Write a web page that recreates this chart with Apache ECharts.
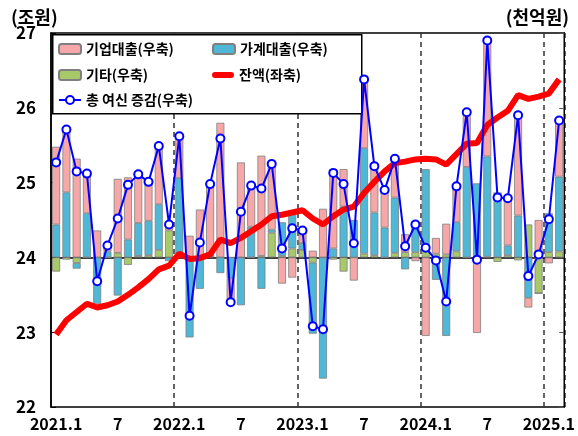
<!DOCTYPE html>
<html><head><meta charset="utf-8">
<script src="https://cdn.jsdelivr.net/npm/echarts@6/dist/echarts.min.js"></script>
<style>html,body{margin:0;padding:0;background:#fff}#c{width:578px;height:436px}</style>
</head><body><div id="c"></div>
<script>
// Months (2021.1 – 2025.2)
const categories = [
 '2021.1','2021.2','2021.3','2021.4','2021.5','2021.6','2021.7','2021.8','2021.9','2021.10','2021.11','2021.12',
 '2022.1','2022.2','2022.3','2022.4','2022.5','2022.6','2022.7','2022.8','2022.9','2022.10','2022.11','2022.12',
 '2023.1','2023.2','2023.3','2023.4','2023.5','2023.6','2023.7','2023.8','2023.9','2023.10','2023.11','2023.12',
 '2024.1','2024.2','2024.3','2024.4','2024.5','2024.6','2024.7','2024.8','2024.9','2024.10','2024.11','2024.12',
 '2025.1','2025.2'
];
// right axis (천억원)
const corporate = [10.4,8.3,13.2,5.6,3.6,0.6,9.9,8.3,6.4,5.0,8.1,0.8,
 5.6,2.9,6.4,9.7,18.0,-2.9,12.7,5.4,13.4,8.6,-3.5,-2.7,
 1.6,0.9,6.5,10.6,5.0,-3.1,9.2,6.3,5.0,5.2,2.4,-0.5,
 -10.5,2.1,4.1,4.8,7.2,-10.1,15.5,0,6.3,13.9,-1.3,5.0,
 -0.8,7.5];
const household = [4.4,8.7,-0.75,5.9,-6.2,0.8,-5.1,2.4,4.4,4.6,6.1,-0.5,
 10.6,-10.7,-4.2,0,-2.1,-2.8,-6.4,4.1,-4.2,0.4,4.5,5.1,
 0.9,-9.5,-16.2,1.2,6.8,5.0,14.1,5.7,4.0,7.4,-1.6,4.2,
 10.8,-3.0,-10.5,3.9,12.1,9.9,13.4,8.6,1.3,5.6,-5.4,0,
 5.2,10.0];
const other = [-1.9,-0.3,-0.75,0,0,0,0.6,-1.0,0.2,0.3,1.0,3.6,
 0,0,0,0.2,0,0,0,0,0.2,3.3,0.2,1.2,
 1.0,-0.7,0,-0.3,-1.9,0,0.5,0.3,0,0.6,0.7,0.7,
 1.0,0.5,0.4,0.8,0,0,0.1,-0.6,0.3,-0.4,4.4,-4.8,
 0.7,0.8];
const totalChange = [12.7,17.1,11.5,11.2,-3.2,1.6,5.2,9.7,11.1,10.1,14.9,4.4,
 16.2,-7.8,2.0,9.8,15.9,-6.0,6.1,9.6,9.2,12.5,1.2,3.9,
 3.6,-9.2,-9.6,11.3,9.8,1.9,23.8,12.2,9.0,13.2,1.5,4.4,
 1.3,-0.4,-5.9,9.5,19.4,-0.3,29.0,8.0,7.9,19.0,-2.5,0.4,
 5.1,18.3];
// left axis (조원)
const balance = [22.97,23.16,23.27,23.38,23.33,23.36,23.41,23.50,23.60,23.71,23.84,23.89,
 24.05,23.98,23.99,24.04,24.24,24.19,24.26,24.35,24.44,24.55,24.57,24.60,
 24.63,24.52,24.44,24.55,24.64,24.68,24.86,25.01,25.15,25.26,25.28,25.31,
 25.32,25.31,25.24,25.38,25.52,25.53,25.77,25.87,25.96,26.17,26.12,26.15,
 26.19,26.38];
const leftAxis = {min:22, max:27, interval:1};
const rightAxis = {min:-20, max:30, interval:10};

const FONT = "'Noto Sans CJK KR','Noto Sans',sans-serif";
const barBorder = {borderColor:'#808080', borderWidth:0.8};
const legendText = {color:'#000', fontSize:14, fontWeight:'bold', fontFamily:FONT, lineHeight:16};
function leg(item, left, top, h){
  return {data:[item], left:left, top:top, padding:0, itemWidth:22, itemHeight:h||10, itemGap:0,
          textStyle:legendText, selectedMode:false, z:5};
}
const chart = echarts.init(document.getElementById('c'), null, {renderer:'canvas'});
chart.setOption({
  animation:false,
  textStyle:{fontFamily:FONT},
  title:[
    {text:'(조원)', left:6, top:3, textStyle:{fontSize:18, fontWeight:'bold', color:'#000', fontFamily:FONT}},
    {text:'(천억원)', right:4, top:3, textStyle:{fontSize:18, fontWeight:'bold', color:'#000', fontFamily:FONT}}
  ],
  grid:{left:51, right:8, top:33, bottom:29, show:true, borderColor:'#000', borderWidth:1.5},
  legend:[
    leg('기업대출(우축)',58,41), leg('가계대출(우축)',212,41),
    leg('기타(우축)',58,67),
    leg({name:'잔액(좌축)', icon:'path://M3,0 H19 A3,3 0 0 1 19,6 H3 A3,3 0 0 1 3,0 Z',
         itemStyle:{color:'#ff0000', borderWidth:0}}, 212, 67),
    leg('총 여신 증감(우축)',58,92)
  ],
  graphic:[{type:'rect', left:52, top:34, z:3, shape:{width:309, height:79},
            style:{fill:'#fff', stroke:'#000', lineWidth:1.5}}],
  xAxis:{type:'category', data:categories, boundaryGap:true,
    axisLine:{show:true, lineStyle:{color:'#000', width:1.5}},
    axisTick:{show:false},
    axisLabel:{interval:0, color:'#000', fontWeight:'bold', fontSize:16, margin:9, fontFamily:FONT,
      formatter:function(v){const m=v.split('.')[1]; return m==='1'?v:(m==='7'?'7':'');}},
    splitLine:{show:true, interval:function(idx){return idx>0 && categories[idx].split('.')[1]==='1';},
      lineStyle:{color:'#333', width:1.5, type:[5,4]}}
  },
  yAxis:[
    {type:'value', min:leftAxis.min, max:leftAxis.max, interval:leftAxis.interval, position:'left',
     axisLine:{show:true, lineStyle:{color:'#000', width:1.5}},
     axisTick:{show:true, inside:true, length:5, lineStyle:{color:'#000'}},
     axisLabel:{color:'#000', fontWeight:'bold', fontSize:17, margin:15, fontFamily:FONT},
     splitLine:{show:false}},
    {type:'value', min:rightAxis.min, max:rightAxis.max, interval:rightAxis.interval, position:'right',
     axisLine:{show:true, lineStyle:{color:'#000', width:1}},
     axisTick:{show:true, inside:true, length:5, lineStyle:{color:'#555'}},
     axisLabel:{show:false}, splitLine:{show:false}}
  ],
  series:[
    {name:'기타(우축)', type:'bar', stack:'loan', yAxisIndex:1, data:other, barWidth:8,
     itemStyle:Object.assign({color:'#a8c96a'}, barBorder)},
    {name:'가계대출(우축)', type:'bar', stack:'loan', yAxisIndex:1, data:household, barWidth:8,
     itemStyle:Object.assign({color:'#4fb8d6'}, barBorder)},
    {name:'기업대출(우축)', type:'bar', stack:'loan', yAxisIndex:1, data:corporate, barWidth:8,
     itemStyle:Object.assign({color:'#f6a8a8'}, barBorder)},
    {name:'잔액(좌축)', type:'line', yAxisIndex:0, data:balance, symbol:'none',
     lineStyle:{color:'#ff0000', width:6}, itemStyle:{color:'#ff0000'}},
    {name:'총 여신 증감(우축)', type:'line', yAxisIndex:1, data:totalChange, symbol:'circle', symbolSize:8,
     lineStyle:{color:'#0000ff', width:2}, itemStyle:{color:'#ffffff', borderColor:'#0000ff', borderWidth:2}}
  ]
});
</script></body></html>
